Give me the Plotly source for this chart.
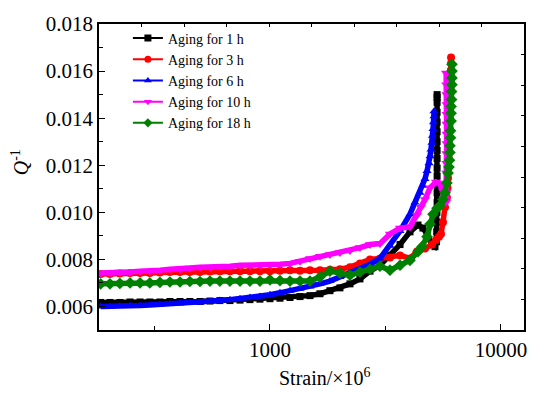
import plotly.graph_objects as go

# ---------------- data ----------------
strain_1h = [185, 203, 224, 248, 274, 302, 334, 369, 408, 450, 498, 550, 607, 671, 742, 819, 905, 1000,
             1105, 1221, 1349, 1490, 1646, 1818, 2009, 2220, 2452, 2710, 2993, 3307, 3656, 4037,
             4373, 4594, 4785, 5028, 5180,
             5260, 5270, 5280, 5280, 5290, 5290, 5290, 5290, 5290, 5290, 5290, 5290, 5290, 5290, 5290, 5290, 5290, 5290]
q_1h = [0.00617, 0.00617, 0.00617, 0.00619, 0.00619, 0.00619, 0.00619, 0.00621, 0.00621, 0.00621, 0.00621,
        0.00623, 0.00625, 0.00625, 0.00627, 0.00629, 0.00631, 0.00633, 0.00635, 0.00638, 0.00642, 0.00646,
        0.00654, 0.00667, 0.00679, 0.00696, 0.00717, 0.00750, 0.00775, 0.00817, 0.00863, 0.00917,
        0.00946, 0.00933, 0.00908, 0.00863, 0.00854,
        0.00875, 0.00917, 0.00958, 0.01000, 0.01042, 0.01083, 0.01117, 0.01154, 0.01188, 0.01229, 0.01263,
        0.01300, 0.01342, 0.01383, 0.01425, 0.01467, 0.01488, 0.01500]

strain_3h = [185, 203, 224, 248, 274, 302, 334, 369, 408, 450, 498, 550, 607, 671, 742, 819, 905, 1000,
             1105, 1221, 1349, 1490, 1646, 1818, 2009, 2220, 2452, 2710, 2993, 3307, 3656, 4037,
             4329, 4688, 5028, 5236, 5390, 5500, 5610, 5724, 5834,
             5870, 5900, 5920, 5940, 5960, 5980, 6000, 6010, 6020, 6040, 6050, 6060, 6070, 6080, 6080]
q_3h = [0.00738, 0.00738, 0.00740, 0.00742, 0.00742, 0.00742, 0.00744, 0.00746, 0.00746, 0.00746, 0.00746,
        0.00748, 0.00750, 0.00750, 0.00750, 0.00750, 0.00750, 0.00750, 0.00752, 0.00754, 0.00752, 0.00754,
        0.00754, 0.00756, 0.00758, 0.00767, 0.00783, 0.00800, 0.00804, 0.00808, 0.00817, 0.00804,
        0.00833, 0.00846, 0.00863, 0.00883, 0.00896, 0.00908, 0.00958, 0.01021, 0.01063,
        0.01104, 0.01146, 0.01188, 0.01229, 0.01271, 0.01313, 0.01354, 0.01396, 0.01438, 0.01479, 0.01521,
        0.01563, 0.01604, 0.01633, 0.01658]

strain_6h = [185, 203, 224, 248, 274, 302, 334, 369, 408, 450, 498, 550, 607, 671, 742, 819, 905, 1000,
             1105, 1221, 1349, 1490, 1646, 1818, 2009, 2220, 2452, 2710, 2993, 3307, 3656, 4037,
             4243, 4457, 4594, 4688, 4785, 4880, 4929, 4978, 5028, 5053, 5079, 5104, 5130, 5130]
q_6h = [0.00600, 0.00600, 0.00602, 0.00604, 0.00604, 0.00606, 0.00608, 0.00610, 0.00613, 0.00615, 0.00617,
        0.00621, 0.00625, 0.00629, 0.00633, 0.00638, 0.00642, 0.00650, 0.00658, 0.00667, 0.00675, 0.00685,
        0.00696, 0.00708, 0.00725, 0.00742, 0.00758, 0.00779, 0.00804, 0.00858, 0.00921, 0.00992,
        0.01042, 0.01083, 0.01113, 0.01142, 0.01175, 0.01208, 0.01238, 0.01267, 0.01296, 0.01325,
        0.01354, 0.01383, 0.01408, 0.01429]

strain_10h = [185, 203, 224, 248, 274, 302, 334, 369, 408, 450, 498, 550, 607, 671, 742, 819, 905, 1000,
              1105, 1221, 1349, 1490, 1646, 1818, 2009, 2220, 2452, 2710, 2993, 3307, 3656, 4037,
              4329, 4500, 4688, 4929, 5236, 5445, 5610, 5724, 5780,
              5800, 5800, 5810, 5810, 5810, 5820, 5820, 5820, 5820, 5820, 5810, 5800, 5790]
q_10h = [0.00742, 0.00742, 0.00746, 0.00746, 0.00750, 0.00750, 0.00754, 0.00758, 0.00758, 0.00763, 0.00767,
         0.00767, 0.00771, 0.00771, 0.00775, 0.00775, 0.00775, 0.00777, 0.00779, 0.00783, 0.00792, 0.00804,
         0.00813, 0.00821, 0.00829, 0.00838, 0.00850, 0.00863, 0.00867, 0.00908, 0.00933, 0.00938,
         0.00988, 0.01021, 0.01054, 0.01104, 0.01129, 0.01121, 0.01092, 0.01058, 0.01042,
         0.01083, 0.01125, 0.01167, 0.01208, 0.01250, 0.01292, 0.01333, 0.01375, 0.01417, 0.01458, 0.01500,
         0.01542, 0.01592]

strain_18h = [185, 203, 224, 248, 274, 302, 334, 369, 408, 450, 498, 550, 607, 671, 742, 819, 905, 1000,
              1105, 1221, 1349, 1490, 1646, 1818, 2009, 2220, 2452, 2710, 2993, 3307, 3656, 4037,
              4373, 4550, 4785, 4929, 5079, 5284, 5445, 5610, 5724, 5834, 5902,
              5957, 5985, 6012, 6012, 6045, 6045, 6081, 6081, 6081, 6110, 6110, 6136, 6136, 6136, 6136]
q_18h = [0.00696, 0.00696, 0.00698, 0.00700, 0.00700, 0.00700, 0.00702, 0.00704, 0.00704, 0.00706, 0.00706,
         0.00708, 0.00708, 0.00708, 0.00708, 0.00708, 0.00708, 0.00713, 0.00710, 0.00708, 0.00708, 0.00708,
         0.00725, 0.00750, 0.00742, 0.00733, 0.00746, 0.00758, 0.00771, 0.00754, 0.00775, 0.00796,
         0.00833, 0.00854, 0.00896, 0.00950, 0.00992, 0.01017, 0.01029, 0.01054, 0.01083, 0.01125, 0.01167,
         0.01192, 0.01221, 0.01254, 0.01283, 0.01317, 0.01346, 0.01388, 0.01421, 0.01450, 0.01479, 0.01513,
         0.01542, 0.01571, 0.01600, 0.01629]

series_names = ["Aging for 1 h", "Aging for 3 h", "Aging for 6 h", "Aging for 10 h", "Aging for 18 h"]
series_x = [strain_1h, strain_3h, strain_6h, strain_10h, strain_18h]
series_y = [q_1h, q_3h, q_6h, q_10h, q_18h]

colors = ["#000000", "#FF0000", "#0000FF", "#FF00FF", "#008000"]
symbols = ["square", "circle", "triangle-up", "triangle-down", "diamond"]
msizes = [7, 8, 8, 9, 9]

x_tick_vals = [1000, 10000]
x_tick_text = ["1000", "10000"]
x_minor_vals = [316.2, 3162.3]

FONT = "Liberation Serif"

fig = go.Figure()
for name, xs, ys, c, s, ms in zip(series_names, series_x, series_y, colors, symbols, msizes):
    fig.add_trace(go.Scatter(
        x=xs, y=ys, mode="lines+markers", name=name, showlegend=False, legendgroup=name,
        line=dict(color=c, width=5.5),
        marker=dict(symbol=s, size=ms, color=c, line=dict(width=0)),
    ))
# legend entries (thin line as in the original legend)
for name, c, s in zip(series_names, colors, symbols):
    fig.add_trace(go.Scatter(
        x=[None], y=[None], mode="lines+markers", name=name, legendgroup=name,
        line=dict(color=c, width=2), marker=dict(symbol=s, size=7, color=c),
    ))
# frame axes (top / right) carrier
fig.add_trace(go.Scatter(x=[None], y=[None], xaxis="x2", yaxis="y2", showlegend=False, hoverinfo="skip"))

axis_common = dict(showgrid=False, zeroline=False, showline=True, linecolor="black", linewidth=1.6,
                   ticks="inside", tickcolor="black", tickwidth=1.4)

fig.update_layout(
    width=539, height=394,
    margin=dict(l=99, r=15, t=16, b=64),
    paper_bgcolor="white", plot_bgcolor="white",
    font=dict(family=FONT, size=20, color="black"),
    xaxis=dict(type="log", range=[2.26, 4.0996], tickvals=x_tick_vals, ticktext=x_tick_text,
               ticklen=6, tickfont=dict(family=FONT, size=21),
               minor=dict(tickvals=x_minor_vals, ticks="inside", ticklen=4, tickwidth=1.4, tickcolor="black"),
               **axis_common),
    yaxis=dict(range=[0.005, 0.018], tick0=0.006, dtick=0.002, tickformat=".3f", ticklen=6,
               tickfont=dict(family=FONT, size=21),
               minor=dict(tick0=0.005, dtick=0.001, ticks="inside", ticklen=4, tickwidth=1.4, tickcolor="black"),
               **axis_common),
    xaxis2=dict(overlaying="x", side="top", anchor="y", range=[0, 10], tick0=0, dtick=1,
                ticklen=3, showticklabels=False, **axis_common),
    yaxis2=dict(overlaying="y", side="right", anchor="x", range=[0, 10], tick0=0, dtick=1,
                ticklen=3, showticklabels=False, **axis_common),
    legend=dict(x=0.068, y=1.005, xanchor="left", yanchor="top", bgcolor="rgba(0,0,0,0)",
                font=dict(family=FONT, size=14), tracegroupgap=0, itemwidth=30),
    annotations=[
        dict(text="<i>Q</i><sup>-1</sup>", xref="paper", yref="paper", x=-0.186, y=0.548,
             xanchor="center", yanchor="middle", textangle=-90, showarrow=False,
             font=dict(family=FONT, size=20)),
        dict(text="Strain/×10<sup>6</sup>", xref="paper", yref="paper", x=0.532, y=-0.153,
             xanchor="center", yanchor="middle", showarrow=False,
             font=dict(family=FONT, size=20)),
    ],
)

fig.write_html("out.html")
